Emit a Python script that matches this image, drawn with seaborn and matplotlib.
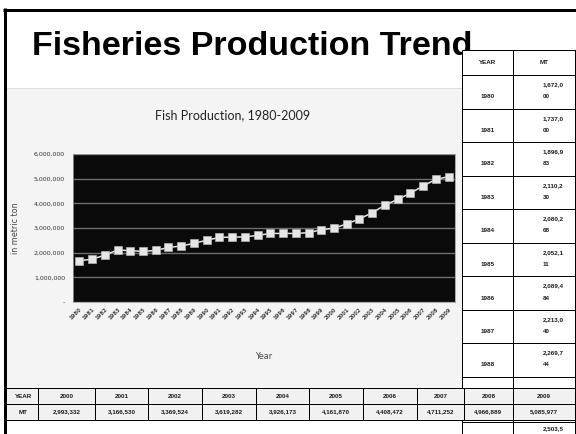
import matplotlib
matplotlib.use("Agg")
import matplotlib.pyplot as plt
import seaborn as sns
import pandas as pd
from matplotlib.patches import Rectangle
from matplotlib.lines import Line2D

# ---------------- data ----------------
years = list(range(1980, 2010))
production = [1672000, 1737000, 1896983, 2110230, 2080268, 2052111, 2089484,
              2213040, 2269744, 2380000, 2503500, 2620000, 2630000, 2640000,
              2700000, 2780000, 2780000, 2780000, 2810000, 2930000, 2993332,
              3166530, 3369524, 3619282, 3926173, 4161870, 4408472, 4711252,
              4966889, 5085977]
ytick_values = [0, 1000000, 2000000, 3000000, 4000000, 5000000, 6000000]
ytick_labels = ["-", "1,000,000", "2,000,000", "3,000,000", "4,000,000",
                "5,000,000", "6,000,000"]
slide_title = "Fisheries Production Trend"
chart_title = "Fish Production, 1980-2009"
side_years = years[:9]           # fully visible rows of the right-hand table
partial_value = production[10]   # 1990 value, peeking out below the bottom table
bottom_years = years[20:]        # bottom table columns

df = pd.DataFrame({"Year": years, "MT": production})

W, H = 576, 434
fig = plt.figure(figsize=(W / 72, H / 72), dpi=72)
fig.patch.set_facecolor("white")


def fx(x):
    return x / W


def fy(y):
    return 1 - y / H


def rect(x0, y0, x1, y1, fc, ec="none", lw=0, z=1):
    fig.add_artist(Rectangle((fx(x0), fy(y1)), fx(x1) - fx(x0), fy(y0) - fy(y1),
                             transform=fig.transFigure, facecolor=fc,
                             edgecolor=ec, linewidth=lw, zorder=z))


def line(x0, y0, x1, y1, color="black", lw=1, z=2):
    fig.add_artist(Line2D([fx(x0), fx(x1)], [fy(y0), fy(y1)],
                          transform=fig.transFigure, color=color, lw=lw,
                          zorder=z, solid_capstyle="butt"))


def text(x, y, s, z=3, **kw):
    fig.text(fx(x), fy(y), s, zorder=z, **kw)


# ---------------- slide frame & title ----------------
rect(5, 88, 462, 388, "#f4f4f4", ec="#d8d8d8", lw=0.8, z=-2)
line(3, 9.5, 576, 9.5, "black", 3, z=12)
line(4.5, 8, 4.5, 434, "black", 3, z=12)
text(32, 55, slide_title, z=4, fontsize=34, fontweight="bold",
     family="Liberation Sans", va="baseline", ha="left", color="black")

# ---------------- chart ----------------
ax = fig.add_axes([fx(73), fy(302), fx(455) - fx(73), fy(154) - fy(302)])
ax.set_facecolor("#0a0a0a")
sns.lineplot(data=df, x="Year", y="MT", ax=ax, color="#e8e8e8", lw=1.5,
             marker="s", markersize=7.5, markerfacecolor="#e6e6e6",
             markeredgecolor="#bdbdbd", markeredgewidth=0.6, zorder=3)
ax.set_xlim(years[0] - 0.5, years[-1] + 0.5)
ax.set_ylim(0, 6000000)
ax.set_yticks(ytick_values)
ax.set_yticklabels(ytick_labels, fontsize=6.2, color="#333333",
                   family="Liberation Sans Narrow")
ax.set_xticks(years)
ax.set_xticklabels([str(y) for y in years], rotation=45, ha="right",
                   rotation_mode="anchor", fontsize=5.2, color="#444444",
                   fontweight="bold")
ax.tick_params(axis="both", length=0)
ax.tick_params(axis="y", pad=8)
ax.tick_params(axis="x", pad=5)
ax.grid(axis="y", color="#6e6e6e", lw=1.4)
ax.grid(axis="x", visible=False)
ax.set_axisbelow(True)
for sp in ax.spines.values():
    sp.set_color("#9a9a9a")
    sp.set_linewidth(0.8)
ax.set_xlabel("Year", fontsize=8, color="#444444", labelpad=31)
ax.set_ylabel("in metric ton", fontsize=8, color="#444444", labelpad=14)
text(233, 115, chart_title, z=4, fontsize=12.5, family="Lato",
     ha="center", va="center", color="#222222")

# ---------------- right table ----------------
tfont = dict(fontsize=6.3, fontweight="bold", family="Liberation Sans",
             color="#1a1a1a")
c0, c1, c2 = 462, 513, 578
head_top, head_bot = 50, 75
row_h = 33.5
rect(c0, head_top, c2, 434, "white", z=6)
line(c0, head_top, c2, head_top, lw=1, z=7)
line(c0, head_bot, c2, head_bot, lw=1, z=7)
for xc in (c0, c1, 575):
    line(xc, head_top, xc, 434, lw=1, z=7)
text((c0 + c1) / 2, 62, "YEAR", z=8, ha="center", va="center", **tfont)
text((c1 + 576) / 2, 62, "MT", z=8, ha="center", va="center", **tfont)
for i, (yr, val) in enumerate(zip(side_years, production[:len(side_years)])):
    top = head_bot + row_h * i
    line(c0, top + row_h, c2, top + row_h, lw=1, z=7)
    s = f"{val:,}"
    text((c0 + c1) / 2, top + 22, str(yr), z=8, ha="center", va="center", **tfont)
    text(543, top + 10, s[:7], z=8, ha="left", va="center", **tfont)
    text(543, top + 22, s[7:], z=8, ha="left", va="center", **tfont)
line(c0, 422, c2, 422, lw=1, z=7)
text(543, 428.5, f"{partial_value:,}"[:7], z=8, ha="left", va="center", **tfont)

# ---------------- bottom table ----------------
bx = [5, 38, 95, 148, 202, 256, 309, 363, 417, 464, 513, 578]
r0, r1, r2 = 388, 404, 420
rect(5, r0, 578, r2, "#f1f1f1", z=9)
for yy in (r0, r1, r2):
    line(5, yy, 578, yy, lw=1, z=10)
for xc in bx[:-1] + [575]:
    line(xc, r0, xc, r2, lw=1, z=10)
text((bx[0] + bx[1]) / 2 + 2, (r0 + r1) / 2, "YEAR", z=11, ha="center",
     va="center", **tfont)
text((bx[0] + bx[1]) / 2 + 2, (r1 + r2) / 2, "MT", z=11, ha="center",
     va="center", **tfont)
for j, yr in enumerate(bottom_years):
    xc = (bx[j + 1] + bx[j + 2]) / 2
    if j == len(bottom_years) - 1:
        xc = (bx[j + 1] + 575) / 2
    val = production[years.index(yr)]
    text(xc, (r0 + r1) / 2, str(yr), z=11, ha="center", va="center", **tfont)
    text(xc, (r1 + r2) / 2, f"{val:,}", z=11, ha="center", va="center", **tfont)

fig.savefig("out.png", dpi=72, facecolor="white")
